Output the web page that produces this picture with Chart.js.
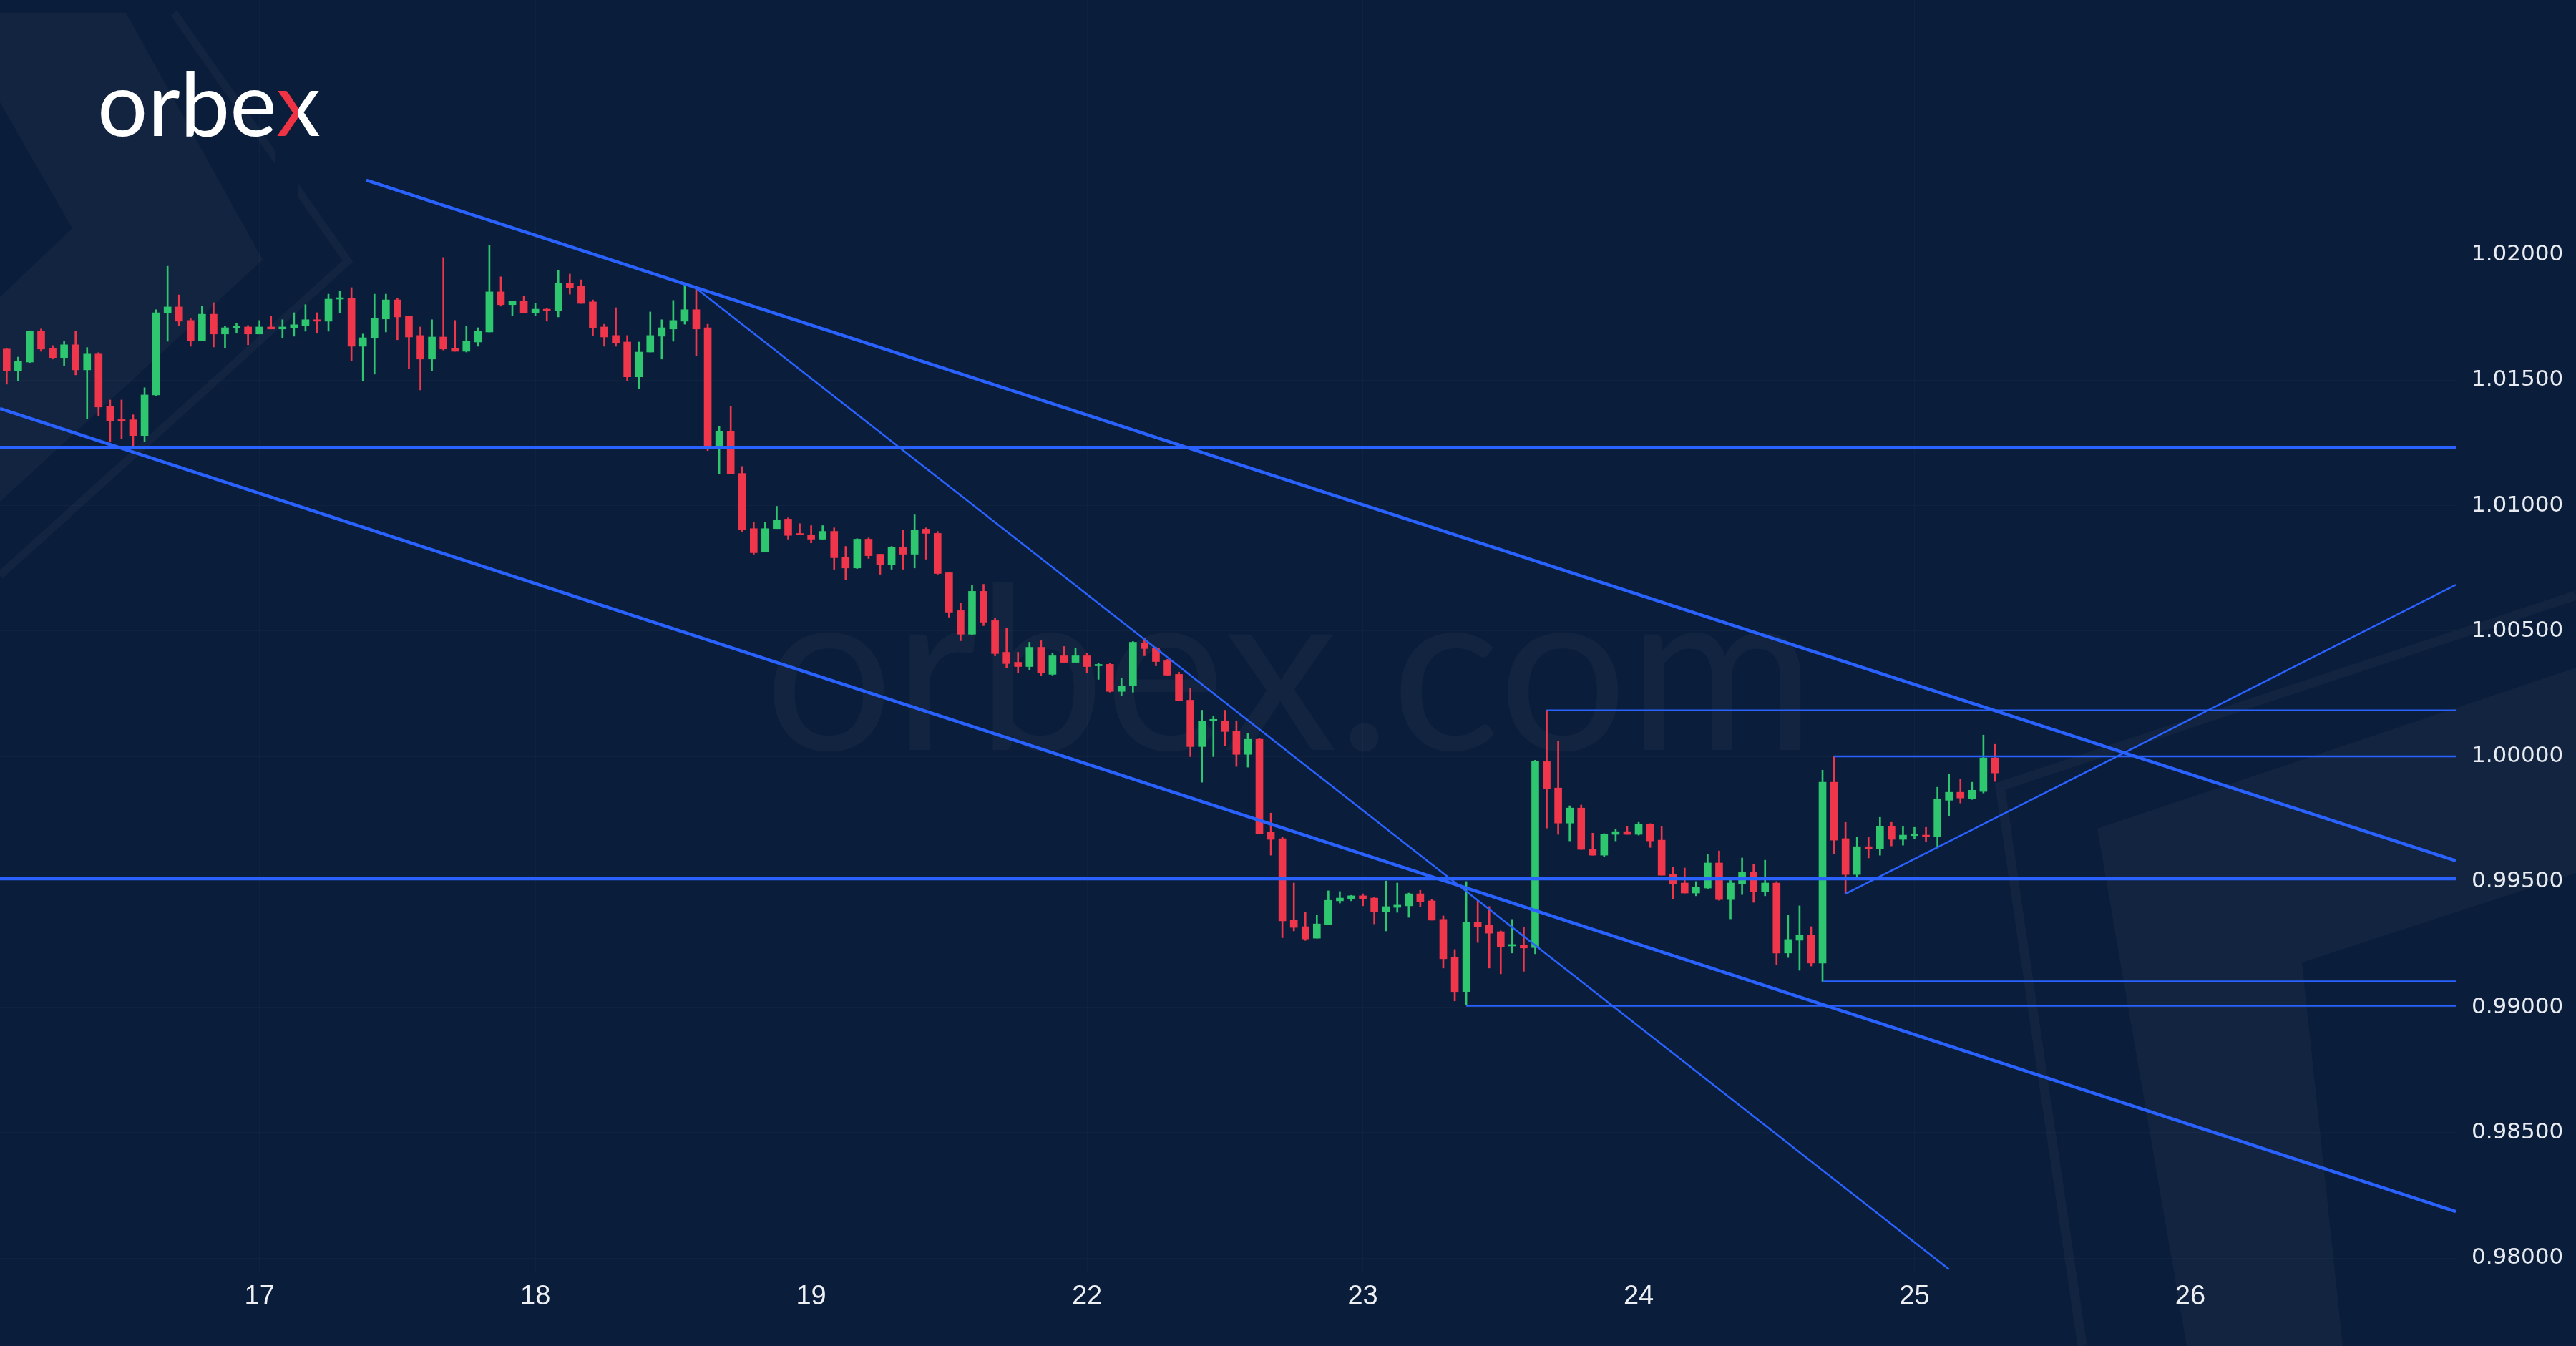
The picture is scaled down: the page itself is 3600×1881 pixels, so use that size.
<!DOCTYPE html>
<html>
<head>
<meta charset="utf-8">
<title>orbex - hourly chart</title>
<script src="https://cdn.jsdelivr.net/npm/chart.js@4.4.1/dist/chart.umd.min.js"></script>
<style>
  html, body { margin: 0; padding: 0; background: #0a1d3a; }
  canvas { display: block; }
</style>
</head>
<body>
<canvas id="chart" width="3600" height="1881" style="width:3600px;height:1881px"></canvas>
<script>
// hourly bars, x = bar number (0 = first bar on screen)
const opens = [
  1.01624, 1.01538, 1.01572, 1.01695, 1.01627, 1.01590, 1.01641, 1.01541, 1.01604, 1.01396,
  1.01339, 1.01342, 1.01279, 1.01441, 1.01769, 1.01792, 1.01738, 1.01658, 1.01763, 1.01684,
  1.01708, 1.01712, 1.01684, 1.01712, 1.01704, 1.01709, 1.01718, 1.01741, 1.01735, 1.01823,
  1.01826, 1.01635, 1.01667, 1.01744, 1.01820, 1.01755, 1.01678, 1.01584, 1.01672, 1.01627,
  1.01615, 1.01652, 1.01692, 1.01852, 1.01801, 1.01815, 1.01769, 1.01783, 1.01777, 1.01886,
  1.01875, 1.01812, 1.01712, 1.01678, 1.01652, 1.01513, 1.01612, 1.01675, 1.01704, 1.01735,
  1.01781, 1.01709, 1.01239, 1.01296, 1.01128, 1.00908, 1.00814, 1.00908, 1.00946, 1.00886,
  1.00883, 1.00866, 1.00897, 1.00794, 1.00751, 1.00866, 1.00806, 1.00763, 1.00833, 1.00806,
  1.00906, 1.00889, 1.00732, 1.00581, 1.00487, 1.00658, 1.00541, 1.00415, 1.00375, 1.00358,
  1.00435, 1.00327, 1.00401, 1.00375, 1.00401, 1.00361, 1.00367, 1.00259, 1.00281, 1.00452,
  1.00432, 1.00381, 1.00327, 1.00224, 1.00039, 1.00142, 1.00142, 1.00099, 1.00008, 1.00068,
  0.99697, 0.99672, 0.99347, 0.99321, 0.99275, 0.99330, 0.99424, 0.99432, 0.99444, 0.99435,
  0.99381, 0.99398, 0.99404, 0.99452, 0.99424, 0.99350, 0.99198, 0.99062, 0.99338, 0.99327,
  0.99301, 0.99244, 0.99247, 0.99238, 0.99979, 0.99874, 0.99734, 0.99794, 0.99629, 0.99606,
  0.99689, 0.99700, 0.99689, 0.99729, 0.99666, 0.99529, 0.99495, 0.99455, 0.99475, 0.99575,
  0.99429, 0.99492, 0.99538, 0.99461, 0.99495, 0.99216, 0.99267, 0.99287, 0.99176, 0.99897,
  0.99672, 0.99529, 0.99640, 0.99632, 0.99720, 0.99669, 0.99684, 0.99686, 0.99680, 0.99825,
  0.99857, 0.99831, 0.99860, 0.99994
];
const highs = [
  1.01626, 1.01592, 1.01697, 1.01704, 1.01638, 1.01655, 1.01695, 1.01630, 1.01610, 1.01421,
  1.01421, 1.01362, 1.01470, 1.01781, 1.01954, 1.01840, 1.01745, 1.01795, 1.01809, 1.01715,
  1.01726, 1.01718, 1.01738, 1.01755, 1.01741, 1.01769, 1.01801, 1.01769, 1.01843, 1.01855,
  1.01869, 1.01684, 1.01843, 1.01843, 1.01826, 1.01755, 1.01712, 1.01741, 1.01989, 1.01738,
  1.01715, 1.01709, 1.02037, 1.01912, 1.01815, 1.01835, 1.01806, 1.01786, 1.01937, 1.01923,
  1.01900, 1.01820, 1.01723, 1.01789, 1.01678, 1.01652, 1.01772, 1.01741, 1.01818, 1.01880,
  1.01866, 1.01723, 1.01317, 1.01396, 1.01156, 1.00934, 1.00934, 1.00997, 1.00951, 1.00928,
  1.00920, 1.00920, 1.00911, 1.00837, 1.00868, 1.00871, 1.00806, 1.00837, 1.00903, 1.00963,
  1.00911, 1.00897, 1.00735, 1.00612, 1.00681, 1.00686, 1.00552, 1.00510, 1.00415, 1.00455,
  1.00461, 1.00413, 1.00438, 1.00432, 1.00410, 1.00373, 1.00370, 1.00310, 1.00458, 1.00470,
  1.00435, 1.00387, 1.00336, 1.00273, 1.00184, 1.00159, 1.00184, 1.00142, 1.00091, 1.00073,
  0.99774, 0.99677, 0.99495, 0.99378, 0.99367, 0.99464, 0.99461, 0.99446, 0.99452, 0.99438,
  0.99503, 0.99495, 0.99455, 0.99466, 0.99430, 0.99364, 0.99230, 0.99501, 0.99424, 0.99401,
  0.99304, 0.99350, 0.99318, 0.99985, 1.00185, 1.00059, 0.99803, 0.99806, 0.99694, 0.99692,
  0.99709, 0.99720, 0.99737, 0.99732, 0.99720, 0.99558, 0.99555, 0.99501, 0.99609, 0.99623,
  0.99509, 0.99595, 0.99569, 0.99586, 0.99501, 0.99367, 0.99404, 0.99321, 0.99945, 1.00000,
  0.99737, 0.99677, 0.99677, 0.99757, 0.99737, 0.99720, 0.99717, 0.99717, 0.99877, 0.99928,
  0.99908, 0.99897, 1.00085, 1.00048
];
const lows = [
  1.01484, 1.01496, 1.01570, 1.01615, 1.01584, 1.01558, 1.01521, 1.01345, 1.01356, 1.01253,
  1.01267, 1.01231, 1.01256, 1.01436, 1.01655, 1.01718, 1.01635, 1.01658, 1.01632, 1.01627,
  1.01687, 1.01641, 1.01684, 1.01704, 1.01667, 1.01675, 1.01695, 1.01687, 1.01695, 1.01769,
  1.01578, 1.01498, 1.01524, 1.01692, 1.01661, 1.01547, 1.01461, 1.01538, 1.01620, 1.01615,
  1.01612, 1.01635, 1.01692, 1.01795, 1.01758, 1.01769, 1.01758, 1.01735, 1.01752, 1.01843,
  1.01806, 1.01678, 1.01635, 1.01635, 1.01498, 1.01467, 1.01612, 1.01584, 1.01655, 1.01723,
  1.01598, 1.01219, 1.01125, 1.01125, 1.00897, 1.00806, 1.00814, 1.00908, 1.00866, 1.00883,
  1.00851, 1.00866, 1.00746, 1.00703, 1.00749, 1.00789, 1.00726, 1.00746, 1.00746, 1.00751,
  1.00786, 1.00726, 1.00555, 1.00461, 1.00484, 1.00521, 1.00401, 1.00353, 1.00333, 1.00344,
  1.00321, 1.00324, 1.00375, 1.00375, 1.00333, 1.00307, 1.00256, 1.00242, 1.00256, 1.00401,
  1.00361, 1.00324, 1.00222, 0.99999, 0.99897, 0.99999, 1.00042, 0.99960, 0.99957, 0.99692,
  0.99606, 0.99277, 0.99304, 0.99266, 0.99275, 0.99330, 0.99415, 0.99424, 0.99404, 0.99332,
  0.99304, 0.99378, 0.99358, 0.99401, 0.99347, 0.99156, 0.99025, 0.99008, 0.99258, 0.99156,
  0.99133, 0.99216, 0.99143, 0.99213, 0.99714, 0.99689, 0.99663, 0.99629, 0.99606, 0.99600,
  0.99663, 0.99689, 0.99686, 0.99637, 0.99526, 0.99432, 0.99455, 0.99444, 0.99472, 0.99426,
  0.99352, 0.99449, 0.99418, 0.99444, 0.99170, 0.99198, 0.99147, 0.99164, 0.99103, 0.99612,
  0.99452, 0.99518, 0.99595, 0.99606, 0.99643, 0.99646, 0.99672, 0.99660, 0.99635, 0.99763,
  0.99814, 0.99828, 0.99854, 0.99900
];
const closes = [
  1.01538, 1.01575, 1.01695, 1.01624, 1.01590, 1.01641, 1.01541, 1.01604, 1.01393, 1.01339,
  1.01337, 1.01279, 1.01441, 1.01769, 1.01792, 1.01735, 1.01658, 1.01763, 1.01684, 1.01709,
  1.01712, 1.01684, 1.01712, 1.01704, 1.01712, 1.01721, 1.01741, 1.01735, 1.01823, 1.01826,
  1.01635, 1.01669, 1.01746, 1.01820, 1.01752, 1.01672, 1.01584, 1.01672, 1.01624, 1.01615,
  1.01655, 1.01695, 1.01852, 1.01801, 1.01815, 1.01769, 1.01783, 1.01777, 1.01886, 1.01869,
  1.01806, 1.01709, 1.01672, 1.01647, 1.01513, 1.01612, 1.01678, 1.01709, 1.01738, 1.01781,
  1.01704, 1.01239, 1.01296, 1.01125, 1.00903, 1.00812, 1.00908, 1.00943, 1.00881, 1.00883,
  1.00866, 1.00897, 1.00792, 1.00751, 1.00866, 1.00800, 1.00763, 1.00834, 1.00806, 1.00903,
  1.00889, 1.00729, 1.00575, 1.00487, 1.00658, 1.00535, 1.00410, 1.00370, 1.00358, 1.00435,
  1.00333, 1.00401, 1.00375, 1.00401, 1.00358, 1.00364, 1.00259, 1.00281, 1.00455, 1.00430,
  1.00378, 1.00324, 1.00222, 1.00039, 1.00139, 1.00145, 1.00099, 1.00008, 1.00068, 0.99692,
  0.99669, 0.99344, 0.99318, 0.99272, 0.99332, 0.99426, 0.99435, 0.99444, 0.99432, 0.99381,
  0.99401, 0.99407, 0.99452, 0.99421, 0.99347, 0.99193, 0.99062, 0.99338, 0.99321, 0.99295,
  0.99241, 0.99250, 0.99236, 0.99979, 0.99871, 0.99734, 0.99794, 0.99629, 0.99606, 0.99689,
  0.99700, 0.99689, 0.99729, 0.99663, 0.99526, 0.99492, 0.99455, 0.99478, 0.99575, 0.99429,
  0.99495, 0.99538, 0.99461, 0.99495, 0.99216, 0.99270, 0.99287, 0.99176, 0.99897, 0.99666,
  0.99529, 0.99640, 0.99632, 0.99720, 0.99669, 0.99686, 0.99686, 0.99680, 0.99828, 0.99857,
  0.99834, 0.99865, 0.99994, 0.99934
];

// first hour of each day and its label
const dayTicks = [22, 46, 70, 94, 118, 142, 166, 190];
const dayLabels = ["17", "18", "19", "22", "23", "24", "25", "26"];
const priceTicks = [0.98, 0.985, 0.99, 0.995, 1.0, 1.005, 1.01, 1.015, 1.02];

// drawn lines, [bar, price] end points
const upperChannel = [[31.3, 1.02297], [213.1, 0.99584]];
const lowerChannel = [[-0.58, 1.01387], [213.1, 0.98185]];
const resistance = [[-0.58, 1.01232], [213.1, 1.01232]];
const support = [[-0.58, 0.99512], [213.1, 0.99512]];
const steepLine = [[60, 1.01866], [169, 0.97955]];
const risingLine = [[160, 0.99452], [213.1, 1.00684]];
const level10018 = [[134, 1.00183], [213.1, 1.00183]];
const level10000 = [[159, 1.0], [213.1, 1.0]];
const level09910 = [[158, 0.99103], [213.1, 0.99103]];
const level09900 = [[127, 0.99006], [213.1, 0.99006]];

const GREEN = "#2ec66e";
const RED = "#f0364a";
const BLUE = "#2962ff";
const BG = "#0a1d3a";

const candleColors = opens.map((o, i) => closes[i] >= o ? GREEN : RED);
const wickData = opens.map((o, i) => ({ x: i, y: [lows[i], highs[i]] }));
const bodyData = opens.map((o, i) => ({ x: i, y: [Math.min(o, closes[i]), Math.max(o, closes[i])] }));

function lineSet(points, width) {
  return {
    type: "line",
    data: points.map(p => ({ x: p[0], y: p[1] })),
    borderColor: BLUE,
    borderWidth: width,
    pointRadius: 0,
    fill: false,
    tension: 0,
    order: 1
  };
}

// background shapes, watermark and logo
const backdrop = {
  id: "backdrop",
  beforeDraw(chart) {
    const ctx = chart.ctx;
    const W = chart.width, H = chart.height;
    ctx.save();
    ctx.fillStyle = BG;
    ctx.fillRect(0, 0, W, H);

    const light = "rgba(255,255,255,0.035)";
    ctx.fillStyle = light;
    ctx.beginPath();
    ctx.moveTo(0, 18); ctx.lineTo(176, 18); ctx.lineTo(367, 363); ctx.lineTo(0, 701);
    ctx.closePath();
    ctx.fill();
    ctx.fillStyle = BG;
    ctx.beginPath();
    ctx.moveTo(0, 143); ctx.lineTo(101, 319); ctx.lineTo(0, 415);
    ctx.closePath();
    ctx.fill();

    ctx.strokeStyle = light;
    ctx.lineWidth = 11;
    ctx.beginPath();
    ctx.moveTo(243, 18); ctx.lineTo(486, 365); ctx.lineTo(0, 804);
    ctx.stroke();

    ctx.fillStyle = light;
    ctx.beginPath();
    ctx.moveTo(2931, 1158); ctx.lineTo(3600, 933); ctx.lineTo(3600, 1220);
    ctx.lineTo(3217, 1345); ctx.lineTo(3274, 1881); ctx.lineTo(3056, 1881);
    ctx.closePath();
    ctx.fill();

    ctx.lineWidth = 13;
    ctx.beginPath();
    ctx.moveTo(3600, 832); ctx.lineTo(2795, 1099); ctx.lineTo(2910, 1881);
    ctx.stroke();

    // watermark
    ctx.font = "300px Lato";
    let w = ctx.measureText("orbex.com").width;
    const wmSize = 300 * 1469 / w;
    ctx.font = wmSize + "px Lato";
    ctx.fillStyle = "rgba(255,255,255,0.035)";
    ctx.textBaseline = "alphabetic";
    ctx.textAlign = "left";
    ctx.fillText("orbex.com", 1068, 1048);

    // logo, left half of the x in red
    ctx.font = "100px Lato";
    w = ctx.measureText("orbex").width;
    const logoSize = 100 * 312 / w;
    ctx.font = logoSize + "px Lato";
    const lx = 136, ly = 190;
    ctx.fillStyle = "#ffffff";
    ctx.fillText("orbex", lx, ly);
    const xW = ctx.measureText("x").width;
    const xStart = lx + ctx.measureText("orbex").width - xW;
    ctx.save();
    ctx.beginPath();
    ctx.rect(xStart - 2, 0, xW / 2 + 2, 300);
    ctx.clip();
    ctx.fillStyle = BG;
    ctx.fillRect(xStart - 2, 0, xW / 2 + 2, 300);
    ctx.fillStyle = "#ee3344";
    ctx.fillText("x", xStart, ly);
    ctx.restore();

    ctx.restore();
  }
};

new Chart(document.getElementById("chart"), {
  type: "bar",
  data: {
    datasets: [
      {
        data: wickData,
        backgroundColor: candleColors,
        borderWidth: 0,
        grouped: false,
        categoryPercentage: 1,
        barPercentage: 1,
        maxBarThickness: 2,
        order: 3
      },
      {
        data: bodyData,
        backgroundColor: candleColors,
        borderWidth: 0,
        grouped: false,
        categoryPercentage: 1,
        barPercentage: 1,
        maxBarThickness: 10,
        minBarLength: 2,
        order: 2
      },
      lineSet(upperChannel, 4.5),
      lineSet(lowerChannel, 4.5),
      lineSet(resistance, 4.5),
      lineSet(support, 4.5),
      lineSet(steepLine, 2.5),
      lineSet(risingLine, 2.5),
      lineSet(level10018, 2.5),
      lineSet(level10000, 2.5),
      lineSet(level09910, 2.5),
      lineSet(level09900, 2.5)
    ]
  },
  options: {
    responsive: false,
    devicePixelRatio: 1,
    animation: false,
    events: [],
    layout: { padding: 0 },
    plugins: {
      legend: { display: false },
      tooltip: { enabled: false }
    },
    scales: {
      x: {
        type: "linear",
        min: -0.58,
        max: 213.1,
        offset: false,
        grid: { color: "rgba(255,255,255,0.025)", drawTicks: false, offset: false },
        border: { display: false },
        afterBuildTicks: axis => { axis.ticks = dayTicks.map(v => ({ value: v })); },
        afterFit: axis => {
          axis.height = 105;
          axis.paddingLeft = 0;
          axis.paddingRight = 0;
        },
        ticks: {
          autoSkip: false,
          maxRotation: 0,
          padding: 14,
          color: "#eef0f4",
          font: { family: "'Liberation Sans Narrow', 'Liberation Sans', sans-serif", size: 38 },
          callback: (v, i) => dayLabels[i]
        }
      },
      y: {
        position: "right",
        min: 0.979487,
        max: 1.030157,
        beginAtZero: false,
        grid: { color: "rgba(255,255,255,0.025)", drawTicks: false },
        border: { display: false },
        afterBuildTicks: axis => { axis.ticks = priceTicks.map(v => ({ value: v })); },
        afterFit: axis => {
          axis.width = 168;
          axis.paddingTop = 0;
          axis.paddingBottom = 0;
        },
        ticks: {
          padding: 22,
          color: "#e8ecf2",
          font: { family: "'DejaVu Sans', sans-serif", size: 31 },
          callback: v => Number(v).toFixed(5)
        }
      }
    }
  },
  plugins: [backdrop]
});
</script>
</body>
</html>
